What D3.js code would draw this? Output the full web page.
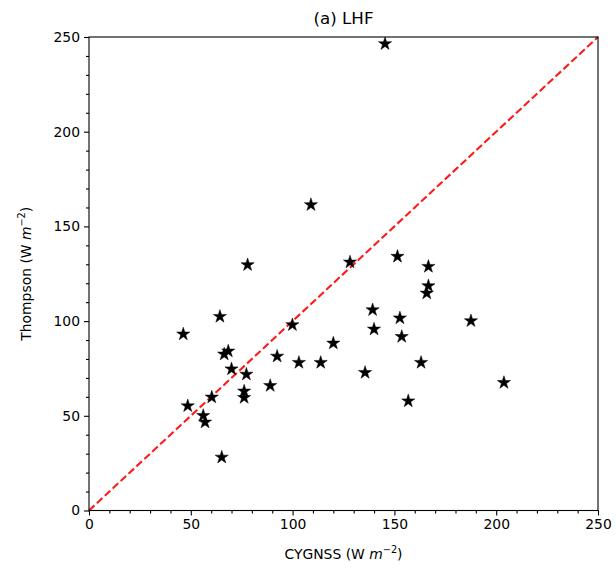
<!DOCTYPE html>
<html><head><meta charset="utf-8">
<script src="https://cdn.jsdelivr.net/npm/d3@7"></script>
<style>
body{margin:0;background:#fff;}
text{font-family:"DejaVu Sans",sans-serif;fill:#000;}
</style></head>
<body><svg id="c" width="616" height="570"></svg>
<script>
const cygnss = [145.4,109.0,77.9,128.2,151.5,166.7,166.7,165.9,46.3,64.3,99.9,139.3,152.7,140.0,153.6,187.6,66.4,68.4,70.0,77.3,92.4,120.0,103.1,113.8,135.6,163.1,89.0,76.2,76.2,60.3,48.5,56.1,57.0,65.2,203.8,156.8];
const thompson = [246.4,161.4,129.7,131.1,134.1,128.8,118.6,114.7,93.1,102.4,98.0,105.9,101.6,95.7,91.8,100.1,82.5,84.1,74.7,71.9,81.4,88.3,78.1,78.1,72.8,78.1,65.9,63.0,59.6,59.8,55.2,50.1,46.6,28.1,67.5,57.8];
const majorTicks = [0,50,100,150,200,250];
const minorTicks = d3.range(0,251,10).filter(v=>v%50!==0);
const domainMax = 250;

const svg = d3.select("#c");
const L=89, R=598, T=37, B=510.5;
const x = d3.scaleLinear().domain([0,domainMax]).range([L,R]);
const y = d3.scaleLinear().domain([0,domainMax]).range([B,T]);

// 1:1 line
svg.append("line").attr("x1",x(0)).attr("y1",y(0)).attr("x2",x(250)).attr("y2",y(250))
  .attr("stroke","#ff1a1a").attr("stroke-width",2.1).attr("stroke-dasharray","7.5,3.3");

// stars
const star = d3.symbol().type(d3.symbolStar).size(54);
svg.append("g").selectAll("path").data(cygnss.map((v,i)=>[v,thompson[i]])).join("path")
  .attr("d",star).attr("transform",d=>`translate(${x(d[0])},${y(d[1])})`).attr("fill","#000")
  .attr("stroke","#000").attr("stroke-width",0.5).attr("stroke-linejoin","round");

// frame
svg.append("rect").attr("x",L).attr("y",T).attr("width",R-L).attr("height",B-T)
  .attr("fill","none").attr("stroke","#000").attr("stroke-width",1.1);

// axes
const xa = svg.append("g").attr("transform",`translate(0,${B})`)
  .call(d3.axisBottom(x).tickValues(majorTicks).tickSize(5).tickPadding(4));
const xm = svg.append("g").attr("transform",`translate(0,${B})`)
  .call(d3.axisBottom(x).tickValues(minorTicks).tickSize(3).tickFormat(""));
const ya = svg.append("g").attr("transform",`translate(${L},0)`)
  .call(d3.axisLeft(y).tickValues(majorTicks).tickSize(5).tickPadding(4));
const ym = svg.append("g").attr("transform",`translate(${L},0)`)
  .call(d3.axisLeft(y).tickValues(minorTicks).tickSize(3).tickFormat(""));
[xa,xm,ya,ym].forEach(g=>{g.select(".domain").remove();g.selectAll("line").attr("stroke","#000").attr("stroke-width",1.1);
  g.selectAll("text").attr("font-family","DejaVu Sans").attr("font-size",13.9).attr("fill","#000");});

// title
svg.append("text").attr("x",(L+R)/2).attr("y",24).attr("text-anchor","middle").attr("font-size",16.7).text("(a) LHF");
// x label
const xl = svg.append("text").attr("x",(L+R)/2).attr("y",559).attr("text-anchor","middle").attr("font-size",13.9);
xl.append("tspan").text("CYGNSS (W ");
xl.append("tspan").attr("font-style","italic").text("m");
xl.append("tspan").attr("font-size",9.7).attr("dy",-6).text("−2");
xl.append("tspan").attr("dy",6).text(")");
// y label
const yl = svg.append("text").attr("transform",`translate(31,${(T+B)/2}) rotate(-90)`).attr("text-anchor","middle").attr("font-size",13.9);
yl.append("tspan").text("Thompson (W ");
yl.append("tspan").attr("font-style","italic").text("m");
yl.append("tspan").attr("font-size",9.7).attr("dy",-6).text("−2");
yl.append("tspan").attr("dy",6).text(")");
</script></body></html>
